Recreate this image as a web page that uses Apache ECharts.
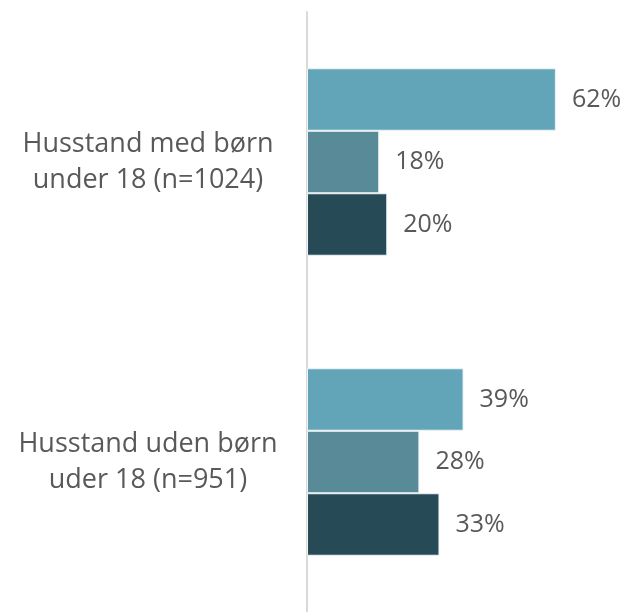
<!DOCTYPE html>
<html><head><meta charset="utf-8">
<script src="https://cdn.jsdelivr.net/npm/echarts@6/dist/echarts.min.js"></script>
<style>html,body{margin:0;padding:0;background:#fff}#c{width:633px;height:612px}</style>
</head><body><div id="c"></div>
<script>
const categories = ['Husstand med børn\nunder 18 (n=1024)', 'Husstand uden børn\nuder 18 (n=951)'];
const seriesA = [62, 39];
const seriesB = [18, 28];
const seriesC = [20, 33];
const colors = ['#62A5B8', '#588A98', '#264B57'];
const font = '"Open Sans", sans-serif';
const chart = echarts.init(document.getElementById('c'));
function mk(data, color) {
  return {
    type: 'bar', data: data, barGap: '0%', barWidth: 62.5,
    itemStyle: { color: color, borderColor: '#eef4f6', borderWidth: 1 },
    label: { show: true, position: 'right', distance: 16, formatter: '{c}%', color: '#595959', fontSize: 25, fontFamily: font },
    animation: false
  };
}
chart.setOption({
  animation: false,
  grid: { left: 307, right: 45, top: 12, bottom: -4, containLabel: false },
  xAxis: { type: 'value', min: 0, max: 70, show: false },
  yAxis: {
    type: 'category', data: categories, inverse: true,
    axisLine: { show: true, lineStyle: { color: '#d9d9d9', width: 2 } },
    axisTick: { show: false },
    axisLabel: { align: 'center', margin: 159, color: '#595959', fontSize: 27, lineHeight: 36, fontFamily: font }
  },
  series: [mk(seriesA, colors[0]), mk(seriesB, colors[1]), mk(seriesC, colors[2])]
});
</script></body></html>
